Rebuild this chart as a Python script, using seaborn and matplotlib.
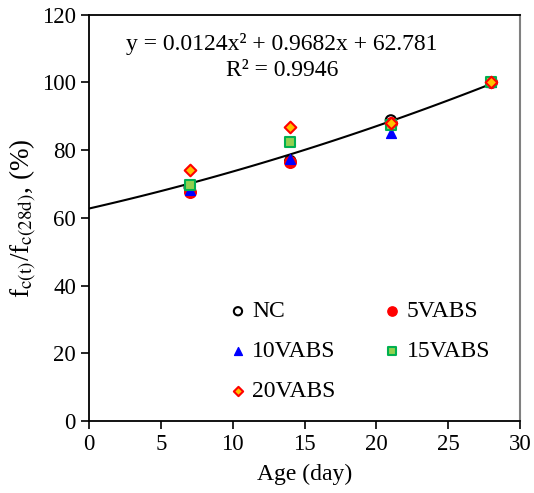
import numpy as np
import pandas as pd
import matplotlib
matplotlib.use('Agg')
import matplotlib.pyplot as plt
import seaborn as sns

# data
age = [7, 14, 21, 28]
nc = [69.0, 76.8, 88.8, 100.0]
vabs5 = [67.8, 76.4, 88.0, 100.0]
vabs10 = [68.3, 77.4, 85.2, 100.0]
vabs15 = [69.6, 82.3, 87.4, 100.0]
vabs20 = [74.1, 87.0, 88.0, 100.0]

# trend line as given on the chart
coef = [0.0124, 0.9682, 62.781]
r2 = 0.9946

sns.set_theme(style='white')
plt.rcParams['font.family'] = ['Liberation Serif', 'DejaVu Serif']
plt.rcParams['mathtext.fontset'] = 'stix'
plt.rcParams['text.color'] = 'black'
plt.rcParams['axes.labelcolor'] = 'black'

df = pd.DataFrame({
    'age': age * 5,
    'val': nc + vabs5 + vabs10 + vabs15 + vabs20,
    'mix': ['NC'] * 4 + ['5VABS'] * 4 + ['10VABS'] * 4 + ['15VABS'] * 4 + ['20VABS'] * 4,
})

fig = plt.figure(figsize=(5.34, 4.93), dpi=100)
ax = fig.add_axes([0.167, 0.146, 0.807, 0.824])

xs = np.linspace(0, 28, 100)
ax.plot(xs, np.polyval(coef, xs), color='black', lw=1.5, zorder=1)

styles = {
    'NC': dict(marker='o', facecolor='none', edgecolor='black', s=55, linewidth=1.5),
    '5VABS': dict(marker='o', facecolor='red', edgecolor='red', s=70, linewidth=1),
    '10VABS': dict(marker='^', facecolor='blue', edgecolor='blue', s=50, linewidth=1),
    '15VABS': dict(marker='s', facecolor='#92d050', edgecolor='#00b050', s=45, linewidth=1.5),
    '20VABS': dict(marker='D', facecolor='#ffc000', edgecolor='red', s=35, linewidth=1.5),
}
for name in ['NC', '5VABS', '10VABS', '15VABS', '20VABS']:
    sub = df[df['mix'] == name]
    sns.scatterplot(data=sub, x='age', y='val', ax=ax, label=name, zorder=3,
                    **styles[name])

ax.set_xlim(0, 30)
ax.set_ylim(0, 120)
ax.set_xticks(range(0, 31, 5))
ax.set_yticks(range(0, 121, 20))
ax.tick_params(axis='both', direction='out', length=5.5, width=1.2, labelsize=16.5,
               bottom=True, left=True, colors='black', pad=4)
for side in ['left', 'bottom', 'top']:
    ax.spines[side].set_color('black')
    ax.spines[side].set_linewidth(1.3)
ax.spines['right'].set_color('#808080')
ax.spines['right'].set_linewidth(1.5)

ax.set_xlabel('Age (day)', fontsize=17, labelpad=6, color='black')
ax.set_ylabel(r'f$_{\mathrm{c(t)}}$/f$_{\mathrm{c(28d)}}$, (%)', fontsize=19.5, labelpad=2,
              color='black')

ax.text(0.448, 0.928, 'y = 0.0124x² + 0.9682x + 62.781', transform=ax.transAxes,
        ha='center', va='center', fontsize=17, color='black')
ax.text(0.448, 0.864, f'R² = {r2}', transform=ax.transAxes,
        ha='center', va='center', fontsize=17, color='black')

# row-wise order like the original legend
h, l = ax.get_legend_handles_labels()
order = [0, 2, 4, 1, 3]
leg = ax.legend([h[i] for i in order], [l[i] for i in order], ncol=2, loc='lower left',
                bbox_to_anchor=(0.285, 0.017), frameon=False, fontsize=17,
                handletextpad=0.0, columnspacing=1.8, labelspacing=0.78,
                handlelength=1.2, markerscale=0.8, borderpad=0)
for t in leg.get_texts():
    t.set_color('black')

fig.savefig('out.png', dpi=100)
